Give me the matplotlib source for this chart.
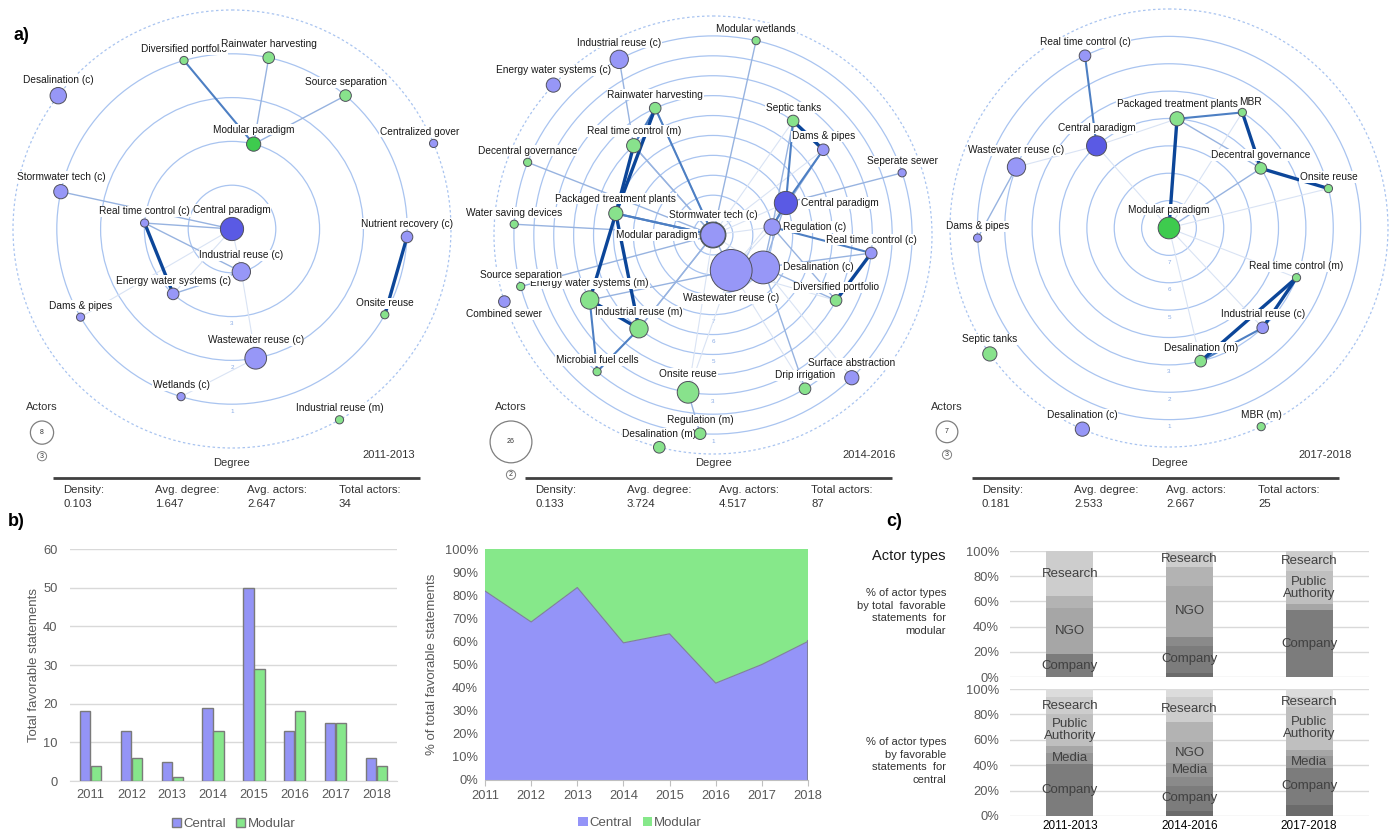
import numpy as np
import matplotlib
matplotlib.use("Agg")
import matplotlib.pyplot as plt
from matplotlib.patches import Circle, Rectangle, Patch

plt.rcParams['font.family'] = ['Liberation Sans', 'DejaVu Sans']

W, H = 1392, 832

# ---------------- Panel b data ----------------
years = [2011, 2012, 2013, 2014, 2015, 2016, 2017, 2018]
central_statements = [18, 13, 5, 19, 50, 13, 15, 6]
modular_statements = [4, 6, 1, 13, 29, 18, 15, 4]

# ---------------- Panel c data (percent of actor types) ----------------
periods = ["2011-2013", "2014-2016", "2017-2018"]
actor_types = ["Association", "Company", "Consultancy", "Media", "NGO",
               "Politics", "Public Authority", "Research", "Utility"]
modular_share = {
    "Association": [0, 3, 0], "Company": [18, 22, 53], "Consultancy": [0, 7, 0],
    "Media": [0, 0, 0], "NGO": [37, 40, 5], "Politics": [9, 15, 0],
    "Public Authority": [0, 0, 26], "Research": [36, 13, 16], "Utility": [0, 0, 0],
}
central_share = {
    "Association": [0, 4, 9], "Company": [41, 20, 29], "Consultancy": [0, 7, 0],
    "Media": [9, 11, 9], "NGO": [5, 16, 5], "Politics": [0, 16, 0],
    "Public Authority": [25, 0, 34], "Research": [14, 20, 8], "Utility": [6, 6, 6],
}
labeled_types = ["Company", "Media", "NGO", "Public Authority", "Research"]

# ---------------- Panel a data: networks ----------------
# kinds: c = central item, m = modular item, C = central paradigm, M = modular paradigm
net1_names = ["Desalination (c)", "Diversified portfolio", "Rainwater harvesting", "Source separation",
              "Centralized governance", "Modular paradigm", "Stormwater tech (c)", "Real time control (c)",
              "Central paradigm", "Industrial reuse (c)", "Energy water systems (c)", "Nutrient recovery (c)",
              "Onsite reuse", "Dams & pipes", "Wastewater reuse (c)", "Wetlands (c)", "Industrial reuse (m)"]
net1_kinds = ["c", "m", "m", "m", "c", "M", "c", "c", "C", "c", "c", "c", "m", "c", "c", "c", "m"]
net1_actors = [4, 1, 2, 2, 1, 3, 3, 1, 8, 5, 2, 2, 1, 1, 7, 1, 1]
net1_angles = [142.5, 105.9, 77.9, 49.6, 23.0, 75.7, 167.7, 176.1, 0, -77.7, -132.2, -2.6,
               -29.3, -149.8, -79.6, -106.9, -60.6]
net1_sides = ["t"] * 17
net1_edges = [("Diversified portfolio", "Modular paradigm", 2), ("Rainwater harvesting", "Modular paradigm", 1),
              ("Source separation", "Modular paradigm", 1), ("Stormwater tech (c)", "Central paradigm", 1),
              ("Real time control (c)", "Energy water systems (c)", 3), ("Real time control (c)", "Central paradigm", 1),
              ("Real time control (c)", "Industrial reuse (c)", 1), ("Central paradigm", "Energy water systems (c)", 0),
              ("Central paradigm", "Dams & pipes", 0), ("Central paradigm", "Industrial reuse (c)", 0),
              ("Industrial reuse (c)", "Energy water systems (c)", 1), ("Industrial reuse (c)", "Wastewater reuse (c)", 0),
              ("Wastewater reuse (c)", "Wetlands (c)", 0), ("Nutrient recovery (c)", "Onsite reuse", 3)]

net2_names = ["Modular wetlands", "Industrial reuse (c)", "Energy water systems (c)", "Rainwater harvesting",
              "Septic tanks", "Real time control (m)", "Dams & pipes", "Decentral governance", "Seperate sewer",
              "Central paradigm", "Packaged treatment plants", "Water saving devices", "Modular paradigm",
              "Stormwater tech (c)", "Regulation (c)", "Real time control (c)", "Desalination (c)",
              "Wastewater reuse (c)", "Diversified portfolio", "Energy water systems (m)", "Source separation",
              "Combined sewer", "Industrial reuse (m)", "Microbial fuel cells", "Onsite reuse",
              "Surface abstraction", "Drip irrigation", "Desalination (m)", "Regulation (m)"]
net2_kinds = ["m", "c", "c", "m", "m", "m", "c", "m", "c", "C", "m", "m", "M", "c", "c", "c", "c", "c",
              "m", "m", "m", "c", "m", "m", "m", "c", "m", "m", "m"]
net2_actors = [1, 5, 3, 2, 2, 3, 2, 1, 1, 8, 3, 1, 10, 9, 4, 2, 16, 26, 2, 5, 1, 2, 5, 1, 7, 3, 2, 2, 2]
net2_angles = [77.5, 118.1, 136.8, 114.5, 54.9, 131.6, 37.7, 158.6, 18.2, 23.7, 167.5, 176.9, 200, 0,
               7.7, -6.5, -32.9, -62.8, -28.0, -152.2, -165.0, -162.3, -128.3, -130.3, -99.0,
               -45.8, -59.1, -104.2, -93.7]
net2_sides = ["t", "t", "t", "t", "t", "t", "t", "t", "t", "r", "t", "t", "l", "t", "r", "t", "r", "b",
              "t", "t", "t", "b", "t", "t", "t", "t", "t", "t", "t"]
net2_edges = [("Modular wetlands", "Modular paradigm", 1), ("Industrial reuse (c)", "Real time control (m)", 1),
              ("Rainwater harvesting", "Packaged treatment plants", 3), ("Rainwater harvesting", "Stormwater tech (c)", 2),
              ("Rainwater harvesting", "Real time control (m)", 2), ("Rainwater harvesting", "Modular paradigm", 1),
              ("Real time control (m)", "Packaged treatment plants", 3), ("Real time control (m)", "Stormwater tech (c)", 1),
              ("Real time control (m)", "Modular paradigm", 1), ("Decentral governance", "Modular paradigm", 1),
              ("Water saving devices", "Modular paradigm", 1), ("Source separation", "Modular paradigm", 1),
              ("Packaged treatment plants", "Stormwater tech (c)", 2), ("Packaged treatment plants", "Modular paradigm", 2),
              ("Packaged treatment plants", "Energy water systems (m)", 3), ("Packaged treatment plants", "Industrial reuse (m)", 3),
              ("Energy water systems (m)", "Industrial reuse (m)", 3), ("Energy water systems (m)", "Microbial fuel cells", 2),
              ("Energy water systems (m)", "Wastewater reuse (c)", 1), ("Industrial reuse (m)", "Microbial fuel cells", 2),
              ("Industrial reuse (m)", "Modular paradigm", 1), ("Septic tanks", "Central paradigm", 2),
              ("Septic tanks", "Dams & pipes", 3), ("Septic tanks", "Stormwater tech (c)", 0),
              ("Septic tanks", "Regulation (c)", 1), ("Dams & pipes", "Central paradigm", 2),
              ("Dams & pipes", "Regulation (c)", 1), ("Dams & pipes", "Stormwater tech (c)", 0),
              ("Seperate sewer", "Central paradigm", 1), ("Central paradigm", "Stormwater tech (c)", 0),
              ("Central paradigm", "Regulation (c)", 2), ("Central paradigm", "Desalination (c)", 1),
              ("Central paradigm", "Wastewater reuse (c)", 0), ("Real time control (c)", "Diversified portfolio", 3),
              ("Real time control (c)", "Regulation (c)", 2), ("Real time control (c)", "Desalination (c)", 1),
              ("Diversified portfolio", "Regulation (c)", 1), ("Diversified portfolio", "Desalination (c)", 1),
              ("Diversified portfolio", "Wastewater reuse (c)", 0), ("Surface abstraction", "Desalination (c)", 0),
              ("Drip irrigation", "Desalination (c)", 1), ("Drip irrigation", "Wastewater reuse (c)", 0),
              ("Onsite reuse", "Regulation (m)", 1), ("Onsite reuse", "Wastewater reuse (c)", 0),
              ("Onsite reuse", "Modular paradigm", 0), ("Stormwater tech (c)", "Modular paradigm", 1),
              ("Stormwater tech (c)", "Wastewater reuse (c)", 0), ("Stormwater tech (c)", "Regulation (c)", 0),
              ("Stormwater tech (c)", "Desalination (c)", 0), ("Stormwater tech (c)", "Industrial reuse (m)", 1),
              ("Regulation (c)", "Desalination (c)", 1), ("Wastewater reuse (c)", "Regulation (c)", 0),
              ("Wastewater reuse (c)", "Desalination (c)", 0), ("Modular paradigm", "Wastewater reuse (c)", 1)]

net3_names = ["Real time control (c)", "MBR", "Packaged treatment plants", "Central paradigm",
              "Wastewater reuse (c)", "Decentral governance", "Onsite reuse", "Dams & pipes",
              "Modular paradigm", "Real time control (m)", "Industrial reuse (c)", "Desalination (m)",
              "Septic tanks", "Desalination (c)", "MBR (m)"]
net3_kinds = ["c", "m", "m", "C", "c", "m", "m", "c", "M", "m", "c", "m", "m", "c", "m"]
net3_actors = [2, 1, 3, 6, 5, 2, 1, 1, 7, 1, 2, 2, 3, 3, 1]
net3_angles = [116.0, 57.6, 85.8, 131.4, 158.2, 33.0, 13.9, 183.0, 0, -21.3, -46.8, -76.6,
               -144.9, -113.3, -65.1]
net3_sides = ["t", "tr", "t", "t", "t", "t", "t", "t", "t", "t", "t", "t", "t", "t", "t"]
net3_edges = [("Real time control (c)", "Central paradigm", 2), ("Packaged treatment plants", "MBR", 2),
              ("Packaged treatment plants", "Modular paradigm", 3), ("Packaged treatment plants", "Decentral governance", 1),
              ("Packaged treatment plants", "Central paradigm", 0), ("MBR", "Decentral governance", 3),
              ("MBR", "Modular paradigm", 0), ("Decentral governance", "Onsite reuse", 3),
              ("Decentral governance", "Modular paradigm", 1), ("Onsite reuse", "Modular paradigm", 0),
              ("Central paradigm", "Modular paradigm", 0), ("Wastewater reuse (c)", "Dams & pipes", 1),
              ("Wastewater reuse (c)", "Central paradigm", 0), ("Modular paradigm", "Real time control (m)", 0),
              ("Modular paradigm", "Industrial reuse (c)", 0), ("Modular paradigm", "Desalination (m)", 0),
              ("Real time control (m)", "Industrial reuse (c)", 3), ("Real time control (m)", "Desalination (m)", 3),
              ("Industrial reuse (c)", "Desalination (m)", 2)]

net_periods = ["2011-2013", "2014-2016", "2017-2018"]
net_total_actors = [34, 87, 25]
net_small_legend = [3, 2, 3]

# ---------------- styles ----------------
BLUE = "#9797f7"
BLUE_D = "#5a5ae4"
GREEN = "#88e28c"
GREEN_D = "#3ecb4e"
NODE_FC = {"c": BLUE, "m": GREEN, "C": BLUE_D, "M": GREEN_D}
RING = "#a9c4f0"
RINGTXT = "#8aace6"
EDGE_STYLE = {0: ("#d9e3f4", 0.8), 1: ("#97b3e0", 1.0), 2: ("#4d7fc3", 1.5), 3: ("#0c4699", 2.4)}
GREY_TXT = "#595959"
LABEL_FS = 7.3

fig = plt.figure(figsize=(W / 100, H / 100), dpi=100)
ax = fig.add_axes([0, 0, 1, 1])
ax.set_xlim(0, W)
ax.set_ylim(H, 0)
ax.set_axis_off()

ring_texts = []
node_labels = []


def draw_network(cx, cy, names, kinds, actors, angles, sides, edges, period, total_actors,
                 small_leg, stats_x, leg_x, clip_x=None, R=219):
    idx = {n: i for i, n in enumerate(names)}
    deg = np.zeros(len(names), dtype=int)
    for a, b, w in edges:
        deg[idx[a]] += 1
        deg[idx[b]] += 1
    maxdeg = deg.max()
    step = R / maxdeg
    rad = (maxdeg - deg) * step
    th = np.deg2rad(angles)
    xs = cx + rad * np.cos(th)
    ys = cy - rad * np.sin(th)
    rs = 4.1 * np.sqrt(np.array(actors, float))
    # rings
    for d in range(1, maxdeg):
        rr = (maxdeg - d) * step
        ax.add_patch(Circle((cx, cy), rr, fill=False, ec=RING, lw=0.9, zorder=1))
        ty = cy + rr + 7
        covered = np.any(np.hypot(xs - cx, ys - ty) < rs + 3)
        if not covered:
            ring_texts.append(ax.text(cx, ty, str(d), fontsize=4.5, color=RINGTXT, ha="center",
                                      va="center", zorder=1.5))
    ax.add_patch(Circle((cx, cy), R, fill=False, ec=RING, lw=0.9, ls=(0, (2, 2)), zorder=1))
    # edges
    for a, b, w in sorted(edges, key=lambda e: e[2]):
        c, lw = EDGE_STYLE[w]
        i, j = idx[a], idx[b]
        ax.plot([xs[i], xs[j]], [ys[i], ys[j]], color=c, lw=lw, zorder=2 + 0.01 * w,
                solid_capstyle="butt")
    # labels
    clip = None
    if clip_x is not None:
        clip = Rectangle((0, 0), clip_x, H, transform=ax.transData)
    for i, n in enumerate(names):
        s = sides[i]
        if s == "t":
            pos, ha, va = (xs[i], ys[i] - rs[i] - 2.5), "center", "bottom"
        elif s == "tr":
            pos, ha, va = (xs[i] - 3, ys[i] - rs[i] - 1.5), "left", "bottom"
        elif s == "b":
            pos, ha, va = (xs[i], ys[i] + rs[i] + 2), "center", "top"
        elif s == "r":
            pos, ha, va = (xs[i] + rs[i] + 3, ys[i]), "left", "center"
        else:
            pos, ha, va = (xs[i] - rs[i] - 3, ys[i]), "right", "center"
        t = ax.text(pos[0], pos[1], n, fontsize=LABEL_FS, ha=ha, va=va, color="#1a1a1a", zorder=3,
                    bbox=dict(boxstyle="square,pad=0.06", fc="white", ec="none"))
        if clip is not None:
            t.set_clip_on(True)
            t.set_clip_path(clip)
        node_labels.append(t)
    # nodes
    for i in range(len(names)):
        ax.add_patch(Circle((xs[i], ys[i]), rs[i], fc=NODE_FC[kinds[i]], ec="#50505c", lw=0.7, zorder=4))
    # legend
    amax = max(actors)
    ax.text(leg_x, 407, "Actors", fontsize=8, ha="center", va="center", color="#333333")
    rbig = 4.1 * np.sqrt(amax)
    ax.add_patch(Circle((leg_x, 421 + rbig), rbig, fill=False, ec="#7f7f7f", lw=0.9))
    ax.text(leg_x, 421 + rbig, str(amax), fontsize=5, ha="center", va="center", color="#333333")
    ys_small = 421 + 2 * rbig + 12
    ax.add_patch(Circle((leg_x, ys_small), 4.6, fill=False, ec="#7f7f7f", lw=0.7))
    ax.text(leg_x, ys_small, str(small_leg), fontsize=5, ha="center", va="center", color="#333333")
    ax.text(cx, 463, "Degree", fontsize=8, ha="center", va="center", color="#333333")
    ax.text(cx + 183, 455, period, fontsize=8, ha="right", va="center", color="#333333")
    # stats
    n = len(names)
    E = len(edges)
    density = 2 * E / (n * (n - 1))
    avg_deg = 2 * E / n
    avg_act = sum(actors) / n
    ax.plot([stats_x, stats_x + 367], [478, 478], color="#404040", lw=2, solid_capstyle="butt")
    heads = ["Density:", "Avg. degree:", "Avg. actors:", "Total actors:"]
    vals = [f"{density:.3f}", f"{avg_deg:.3f}", f"{avg_act:.3f}", f"{total_actors}"]
    for k in range(4):
        ax.text(stats_x + 10 + 92 * k, 490, heads[k], fontsize=8.2, ha="left", va="center", color="#333333")
        ax.text(stats_x + 10 + 92 * k, 504, vals[k], fontsize=8.2, ha="left", va="center", color="#333333")


draw_network(232, 229, net1_names, net1_kinds, net1_actors, net1_angles, net1_sides, net1_edges,
             net_periods[0], net_total_actors[0], net_small_legend[0], 53, 42, clip_x=460)
draw_network(713, 235, net2_names, net2_kinds, net2_actors, net2_angles, net2_sides, net2_edges,
             net_periods[1], net_total_actors[1], net_small_legend[1], 525, 511)
draw_network(1169, 228, net3_names, net3_kinds, net3_actors, net3_angles, net3_sides, net3_edges,
             net_periods[2], net_total_actors[2], net_small_legend[2], 972, 947)

# panel letters
ax.text(13, 35, "a)", fontsize=13, fontweight="bold", ha="left", va="center", color="black")
ax.text(8, 522, "b)", fontsize=13, fontweight="bold", ha="left", va="center", color="black")
ax.text(886, 522, "c)", fontsize=13, fontweight="bold", ha="left", va="center", color="black")


def fig_rect(left, top, right, bottom):
    return [left / W, 1 - bottom / H, (right - left) / W, (bottom - top) / H]


# ---------------- Panel b: bar chart ----------------
BAR_C = "#9494f6"
BAR_M = "#86e78b"
axb = fig.add_axes(fig_rect(70, 549, 397, 781))
axb.set_facecolor("none")
x = np.arange(len(years))
bw = 0.25
axb.bar(x - bw / 2 - 0.01, central_statements, bw, color=BAR_C, edgecolor="#7a7a7a", lw=1.0, zorder=3)
axb.bar(x + bw / 2 + 0.01, modular_statements, bw, color=BAR_M, edgecolor="#7a7a7a", lw=1.0, zorder=3)
axb.set_xlim(-0.5, len(years) - 0.5)
axb.set_ylim(0, 60)
axb.set_yticks(range(0, 61, 10))
axb.set_xticks(x)
axb.set_xticklabels([str(y) for y in years])
axb.grid(axis="y", color="#d9d9d9", lw=1.0, zorder=0)
for s in ["top", "right", "left"]:
    axb.spines[s].set_visible(False)
axb.spines["bottom"].set_color("#d9d9d9")
axb.tick_params(axis="both", length=0, colors=GREY_TXT, labelsize=9.3)
axb.tick_params(axis="y", pad=9)
axb.tick_params(axis="x", pad=6)
axb.set_ylabel("Total favorable statements", fontsize=9.5, color=GREY_TXT, labelpad=2)
axb.legend(handles=[Patch(fc=BAR_C, ec="#7a7a7a", label="Central"), Patch(fc=BAR_M, ec="#7a7a7a", label="Modular")],
           loc="center", bbox_to_anchor=(0.5, -0.185), ncol=2, frameon=False, fontsize=9.5,
           handlelength=0.7, handleheight=0.7, handletextpad=0.15, columnspacing=0.8, labelcolor=GREY_TXT)

# ---------------- Panel b: area chart ----------------
tot = np.array(central_statements, float) + np.array(modular_statements, float)
c_pct = np.array(central_statements) / tot
m_pct = np.array(modular_statements) / tot
AREA_C = "#9494f8"
AREA_M = "#86e88a"
axa = fig.add_axes(fig_rect(485, 549, 808, 780))
axa.set_facecolor("none")
axa.stackplot(years, c_pct, m_pct, colors=[AREA_C, AREA_M], lw=0)
axa.plot(years, c_pct, color="#7f7f9a", lw=0.8)
axa.plot([years[-1], years[-1]], [0, c_pct[-1]], color="#8080a0", lw=1.5)
axa.set_xlim(years[0], years[-1])
axa.set_ylim(0, 1)
axa.set_yticks(np.arange(0, 1.01, 0.1))
axa.set_yticklabels([f"{int(round(v * 100))}%" for v in np.arange(0, 1.01, 0.1)])
axa.set_xticks(years)
for s in ["top", "right", "left"]:
    axa.spines[s].set_visible(False)
axa.spines["bottom"].set_color("#bfbfbf")
axa.tick_params(axis="x", length=4, color="#bfbfbf", colors=GREY_TXT, labelsize=9.3, pad=3)
axa.tick_params(axis="y", length=0, colors=GREY_TXT, labelsize=9.3, pad=5)
axa.set_ylabel("% of total favorable statements", fontsize=9.5, color=GREY_TXT, labelpad=5)
axa.legend(handles=[Patch(fc=AREA_C, label="Central"), Patch(fc=AREA_M, label="Modular")],
           loc="center", bbox_to_anchor=(0.48, -0.185), ncol=2, frameon=False, fontsize=9.5,
           handlelength=0.7, handleheight=0.7, handletextpad=0.15, columnspacing=0.8, labelcolor=GREY_TXT)

# ---------------- Panel c: stacked actor type bars ----------------
TYPE_COLORS = {"Association": "#6b6b6b", "Company": "#7c7c7c", "Consultancy": "#8a8a8a", "Media": "#969696",
               "NGO": "#a6a6a6", "Politics": "#b3b3b3", "Public Authority": "#bfbfbf", "Research": "#cdcdcd",
               "Utility": "#dcdcdc"}


def stacked(axc, share, show_x):
    axc.set_facecolor("none")
    xc = np.arange(len(periods))
    bottom = np.zeros(len(periods))
    for t in actor_types:
        v = np.array(share[t], float)
        axc.bar(xc, v, 0.39, bottom=bottom, color=TYPE_COLORS[t], lw=0, zorder=3)
        if t in labeled_types:
            for k in range(len(periods)):
                if v[k] >= 8:
                    lab = "Public\nAuthority" if t == "Public Authority" else t
                    axc.text(xc[k], bottom[k] + v[k] / 2, lab, ha="center", va="center", fontsize=9.5,
                             color="#404040", zorder=4, linespacing=1.0)
        bottom += v
    axc.set_xlim(-0.5, len(periods) - 0.5)
    axc.set_ylim(0, 100)
    axc.set_yticks(range(0, 101, 20))
    axc.set_yticklabels([f"{v}%" for v in range(0, 101, 20)])
    axc.grid(axis="y", color="#d9d9d9", lw=1.0, zorder=0)
    for s in ["top", "right", "left", "bottom"]:
        axc.spines[s].set_visible(False)
    axc.tick_params(axis="y", length=0, colors=GREY_TXT, labelsize=9.3, pad=8)
    axc.set_xticks(xc)
    if show_x:
        axc.set_xticklabels(periods, fontsize=8.5, color="black")
        axc.tick_params(axis="x", length=0, pad=3)
    else:
        axc.set_xticklabels([])
        axc.tick_params(axis="x", length=0)


axc1 = fig.add_axes(fig_rect(1010, 551, 1369, 677))
stacked(axc1, modular_share, False)
axc2 = fig.add_axes(fig_rect(1010, 689, 1369, 816))
stacked(axc2, central_share, True)

ax.text(946, 556, "Actor types", fontsize=10.5, ha="right", va="center", color="#1a1a1a")
ax.text(946, 612, "% of actor types\nby total  favorable\nstatements  for\nmodular", fontsize=8,
        ha="right", va="center", multialignment="right", linespacing=1.3, color="#333333")
ax.text(946, 761, "% of actor types\nby favorable\nstatements  for\ncentral", fontsize=8,
        ha="right", va="center", multialignment="right", linespacing=1.3, color="#333333")

# hide ring numbers that sit under a node label (they are covered in the original too)
fig.canvas.draw()
renderer = fig.canvas.get_renderer()
label_boxes = [t.get_window_extent(renderer).expanded(1.02, 1.15) for t in node_labels]
for rt in ring_texts:
    bb = rt.get_window_extent(renderer)
    if any(bb.overlaps(lb) for lb in label_boxes):
        rt.set_visible(False)

fig.savefig("out.png", dpi=100)
